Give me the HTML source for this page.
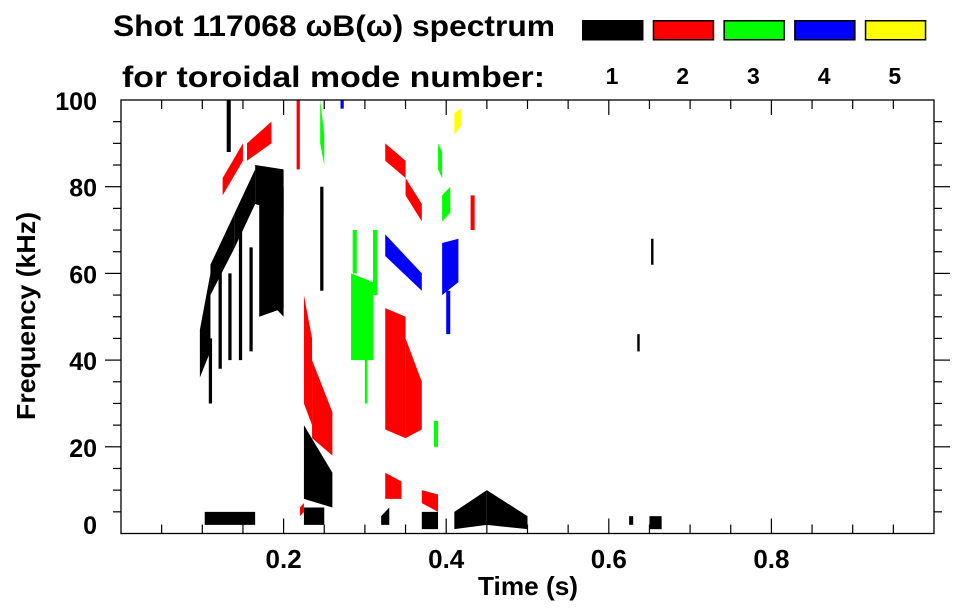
<!DOCTYPE html>
<html><head><meta charset="utf-8"><style>
html,body{margin:0;padding:0;background:#fff;}
svg{display:block;font-family:"Liberation Sans",sans-serif;font-weight:bold;}
</style></head><body>
<svg id="chart" width="963" height="615" viewBox="0 0 963 615">
<text x="113" y="36" font-size="30" textLength="442" lengthAdjust="spacingAndGlyphs">Shot 117068 ωB(ω) spectrum</text>
<text x="122" y="87" font-size="30" textLength="423" lengthAdjust="spacingAndGlyphs">for toroidal mode number:</text>
<g id="legend"></g>
<g id="marks"></g>
<g id="axes"></g>
<text x="528" y="595" font-size="26" textLength="100" lengthAdjust="spacingAndGlyphs" text-anchor="middle">Time (s)</text>
<text transform="translate(35,316) rotate(-90)" font-size="26" text-anchor="middle" textLength="208" lengthAdjust="spacingAndGlyphs">Frequency (kHz)</text>
</svg>
<script>
const modeLabels=["1","2","3","4","5"];
const modeColors=["#000","#f00","#0f0","#00f","#ff0"];
const xTicks=[0.2,0.4,0.6,0.8];
const yTicks=[0,20,40,60,80,100];
// clusters: mode index, start time, end time, freq range at start, freq range at end
const clMode=[0,0,0,0,0,0,0,0,0,0,0,0,0,0,0,0,0,0,0,0,0,0,0,0,
 1,1,1,1,1,1,1,1,1,1,1,1,1,
 2,2,2,2,2,2,2,2,
 3,3,3,3,
 4];
const clT0=[0.097,0.11,0.14,0.165,0.12,0.145,0.17,0.19,0.13,0.225,0.103,0.225,0.32,0.37,0.41,0.45,0.245,0.625,0.65,0.635,0.652,0.108,0.132,0.158,
 0.125,0.216,0.225,0.235,0.325,0.35,0.325,0.35,0.325,0.37,0.43,0.22,0.155,
 0.283,0.285,0.245,0.39,0.395,0.31,0.385,0.3,
 0.325,0.395,0.4,0.27,
 0.41];
const clT1=[0.11,0.14,0.165,0.2,0.124,0.149,0.2,0.2,0.135,0.26,0.165,0.25,0.33,0.39,0.45,0.5,0.249,0.63,0.665,0.638,0.655,0.112,0.136,0.162,
 0.15,0.22,0.235,0.26,0.35,0.37,0.35,0.37,0.345,0.39,0.435,0.225,0.185,
 0.31,0.29,0.25,0.395,0.405,0.315,0.39,0.303,
 0.37,0.415,0.405,0.274,
 0.418];
const clLo0=[36,55,66,76,38,40,50,52,88,8,2,2,2,1,1,2,56,2,1,42,62,30,40,42,
 78,84,30,22,24,22,86,78,8,7,70,4,86,
 40,60,90,84,72,55,20,30,
 64,55,46,98,
 92];
const clHi0=[47,62,74,85,60,72,80,80,100,25,5,6,4,5,5,10,80,4,4,46,68,45,60,66,
 82,100,55,40,52,45,90,82,14,10,78,6,90,
 60,70,100,90,78,70,26,45,
 69,67,56,100,
 97];
const clLo1=[42,66,76,74,38,40,52,50,88,6,2,2,2,1,2,1,56,2,1,42,62,30,40,42,
 86,84,25,18,22,24,82,72,8,5,70,5,90,
 40,60,85,82,74,55,20,30,
 56,58,46,98,
 94];
const clHi1=[60,74,84,84,60,72,80,80,100,14,5,6,6,5,10,4,80,4,4,46,68,45,60,66,
 90,100,45,28,50,35,86,76,12,9,78,7,95,
 58,70,92,88,80,70,26,45,
 60,68,56,100,
 98];
const L=121,R=934,T=100,B=533.5;
const xs=t=>L+(R-L)*t;
const ys=f=>B-(B-T)*f/100;
const NS="http://www.w3.org/2000/svg";
function mk(tag,attrs,parent){const e=document.createElementNS(NS,tag);for(const k in attrs)e.setAttribute(k,attrs[k]);parent.appendChild(e);return e;}
const marks=document.getElementById('marks');
for(let i=0;i<clMode.length;i++){
 const p=[[xs(clT0[i]),ys(clLo0[i])],[xs(clT0[i]),ys(clHi0[i])],[xs(clT1[i]),ys(clHi1[i])],[xs(clT1[i]),ys(clLo1[i])]];
 const e=mk('polygon',{points:p.map(q=>q.join(',')).join(' '),fill:modeColors[clMode[i]]},marks);
 
 
}
const leg=document.getElementById('legend');
for(let i=0;i<modeLabels.length;i++){
 const x0=582+70.7*i;
 const r=mk('rect',{x:x0+0.75,y:20.75,width:60,height:19,fill:modeColors[i],stroke:'#000','stroke-width':1.5},leg);
 
 
 const tx=mk('text',{x:x0+30,y:84,'font-size':23,'text-anchor':'middle'},leg);
 tx.textContent=modeLabels[i];
 
 
}
const ax=document.getElementById('axes');
mk('rect',{x:L,y:T,width:R-L,height:B-T,fill:'none',stroke:'#000','stroke-width':1.3},ax);
for(let k=1;k<20;k++){const t=k*0.05,x=xs(t),len=(k%4===0)?15:9;
 mk('line',{x1:x,y1:B,x2:x,y2:B-len,stroke:'#000','stroke-width':1.2},ax);
 mk('line',{x1:x,y1:T,x2:x,y2:T+len,stroke:'#000','stroke-width':1.2},ax);}
for(let k=1;k<20;k++){const f=k*5,y=ys(f),len=(k%4===0)?16:8;
 mk('line',{x1:L,y1:y,x2:L-len,y2:y,stroke:'#000','stroke-width':1.2},ax);
 mk('line',{x1:R,y1:y,x2:R+len,y2:y,stroke:'#000','stroke-width':1.2},ax);}
for(const t of xTicks){const e=mk('text',{x:xs(t),y:568,'font-size':26,'text-anchor':'middle'},ax);e.textContent=t.toFixed(1);
 
 }
for(const f of yTicks){const yb=(f===0)?534:ys(f)+10;const e=mk('text',{x:97,y:yb,'font-size':25,'text-anchor':'end'},ax);e.textContent=f;
 
 }
</script>
</body></html>
